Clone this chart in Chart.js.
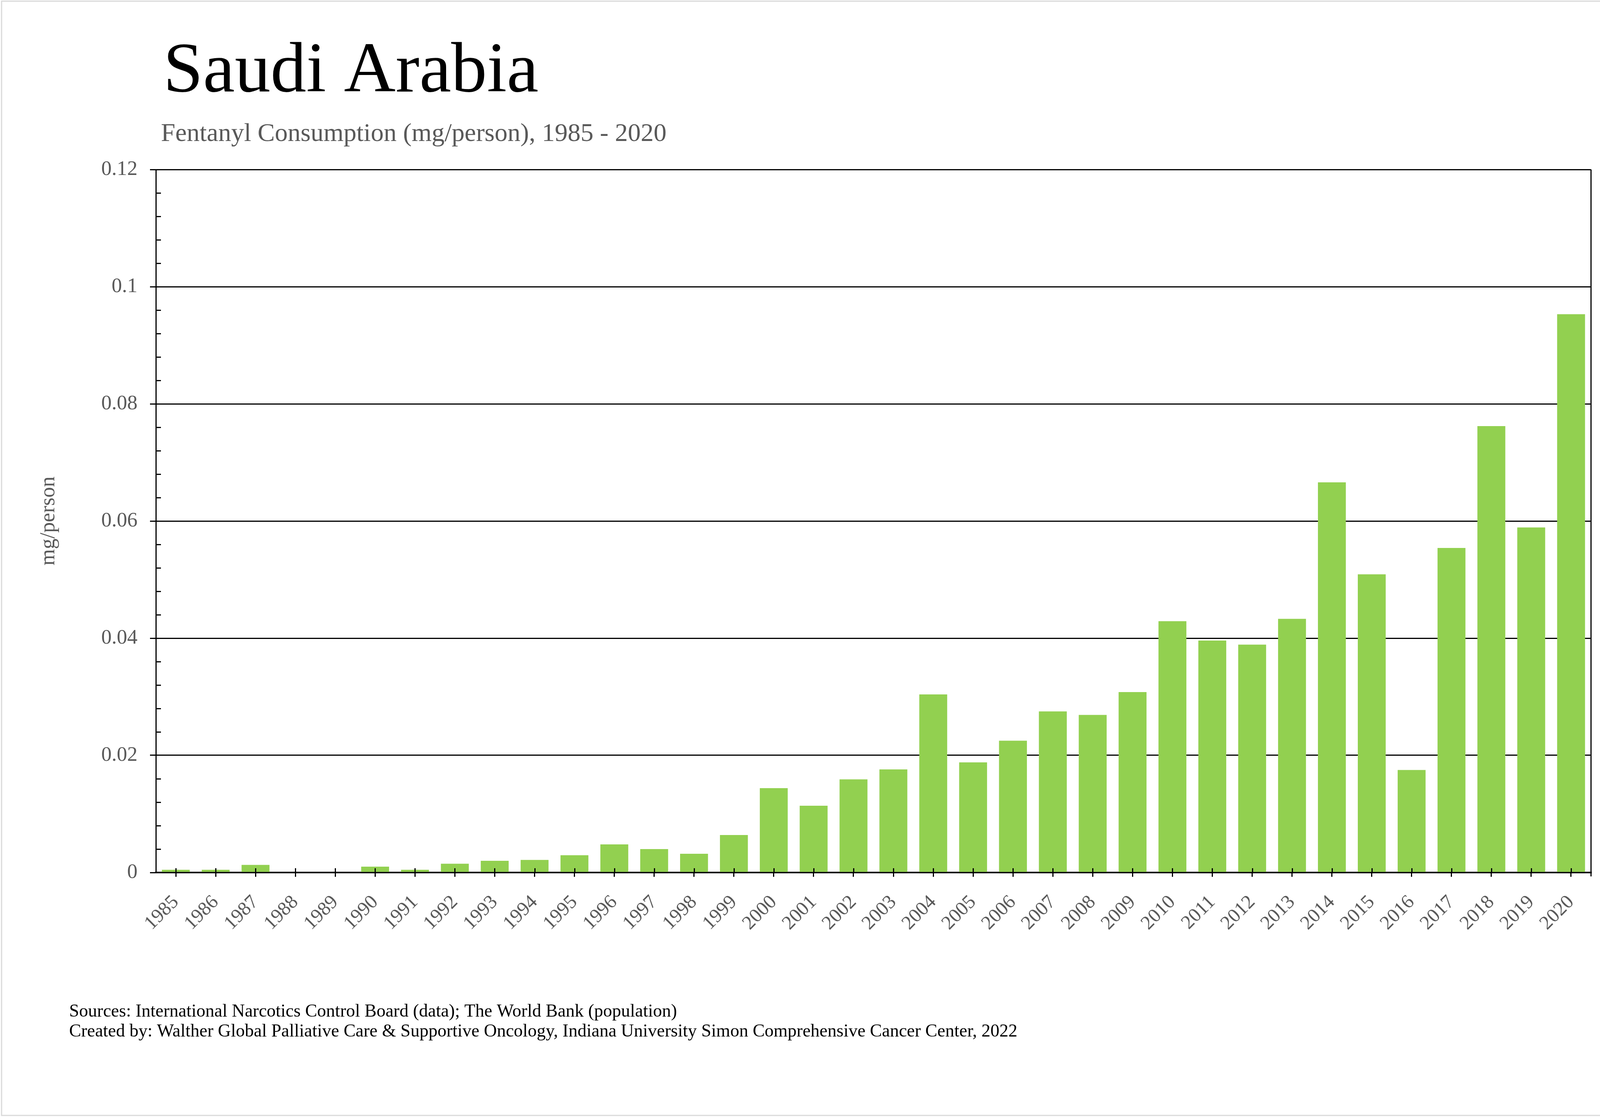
<!DOCTYPE html>
<html>
<head>
<meta charset="utf-8">
<title>Saudi Arabia - Fentanyl Consumption</title>
<script src="https://cdn.jsdelivr.net/npm/chart.js@4.4.0/dist/chart.umd.min.js"></script>
<style>
  html, body { margin: 0; padding: 0; background: #ffffff; }
  canvas { display: block; }
</style>
</head>
<body>
<canvas id="grafica" width="4221" height="2860"></canvas>
<script>
// datos
const years = ['1985','1986','1987','1988','1989','1990','1991','1992','1993','1994',
  '1995','1996','1997','1998','1999','2000','2001','2002','2003','2004',
  '2005','2006','2007','2008','2009','2010','2011','2012','2013','2014',
  '2015','2016','2017','2018','2019','2020'];
const mgPerPerson = [0.00047, 0.00047, 0.0013, 0, 0, 0.001, 0.00047, 0.0015, 0.002, 0.00215,
  0.00295, 0.0048, 0.004, 0.0032, 0.0064, 0.0144, 0.0114, 0.0159, 0.0176, 0.0304,
  0.0188, 0.0225, 0.0275, 0.0269, 0.0308, 0.0429, 0.0396, 0.0389, 0.0433, 0.0666,
  0.0509, 0.0175, 0.0554, 0.0762, 0.0589, 0.0953];
const yTicks = [0, 0.02, 0.04, 0.06, 0.08, 0.1, 0.12];

const titleText = 'Saudi Arabia';
const subtitleText = 'Fentanyl Consumption (mg/person), 1985 - 2020';
const footerLines = [
  'Sources: International Narcotics Control Board (data); The World Bank (population)',
  'Created by: Walther Global Palliative Care & Supportive Oncology, Indiana University Simon Comprehensive Cancer Center, 2022'
];

const SERIF = "'Liberation Serif', 'Times New Roman', serif";
const GREY = '#595959';

// textos, marco de pagina, marcas menores y borde derecho
const extras = {
  id: 'extras',
  beforeDraw(chart) {
    const ctx = chart.ctx;
    ctx.save();
    ctx.fillStyle = '#ffffff';
    ctx.fillRect(0, 0, chart.width, chart.height);
    ctx.strokeStyle = '#d9d9d9';
    ctx.lineWidth = 3;
    ctx.strokeRect(4, 3, 4209, 2853);
    ctx.restore();
  },
  afterDraw(chart) {
    const ctx = chart.ctx;
    const area = chart.chartArea;
    const x = chart.scales.x;
    const y = chart.scales.y;
    ctx.save();
    ctx.fillStyle = '#000000';
    ctx.textAlign = 'left';
    ctx.textBaseline = 'alphabetic';
    ctx.font = '183px ' + SERIF;
    ctx.fillText(titleText, 418, 234);
    ctx.fillStyle = GREY;
    ctx.font = '66px ' + SERIF;
    ctx.fillText(subtitleText, 412, 361);
    ctx.fillStyle = '#000000';
    ctx.font = '46px ' + SERIF;
    footerLines.forEach((line, i) => ctx.fillText(line, 177, 2603 + i * 51));

    ctx.strokeStyle = '#000000';
    ctx.lineWidth = 3;
    ctx.beginPath();
    // marcas menores del eje y, hacia dentro
    for (let k = 1; k < 30; k++) {
      if (k % 5 === 0) continue;
      const py = Math.round(y.getPixelForValue(k * 0.004)) + 0.5;
      ctx.moveTo(area.left, py);
      ctx.lineTo(area.left + 13, py);
    }
    // parte interior de las marcas del eje x
    years.forEach((_, i) => {
      const px = Math.round(x.getPixelForValue(i)) + 0.5;
      ctx.moveTo(px, area.bottom);
      ctx.lineTo(px, area.bottom - 11);
    });
    // borde derecho
    ctx.moveTo(area.right, area.top);
    ctx.lineTo(area.right, area.bottom + 10);
    ctx.stroke();
    ctx.restore();
  }
};

const ctx = document.getElementById('grafica').getContext('2d');
new Chart(ctx, {
  type: 'bar',
  data: {
    labels: years,
    datasets: [{
      label: 'mg/person',
      data: mgPerPerson,
      backgroundColor: '#92D050',
      borderWidth: 0,
      barPercentage: 0.7,
      categoryPercentage: 1.0
    }]
  },
  options: {
    responsive: false,
    animation: false,
    devicePixelRatio: 1,
    layout: {
      padding: { left: 98, right: 148, top: 434, bottom: 0 }
    },
    plugins: {
      legend: { display: false },
      tooltip: { enabled: false },
      title: { display: false }
    },
    scales: {
      x: {
        offset: true,
        afterFit: function(scale) { scale.height = 2860 - 2234; },
        grid: {
          display: true,
          offset: false,
          drawOnChartArea: false,
          drawTicks: true,
          tickLength: 11,
          color: '#000000',
          lineWidth: 3
        },
        border: { display: true, color: '#000000', width: 4 },
        ticks: {
          autoSkip: false,
          maxRotation: 45,
          minRotation: 45,
          padding: 36,
          color: GREY,
          font: { family: SERIF, size: 50 }
        }
      },
      y: {
        min: 0,
        max: 0.12,
        afterFit: function(scale) { scale.width = 399 - 98; },
        afterBuildTicks: function(scale) {
          scale.ticks = yTicks.map(v => ({ value: v }));
        },
        grid: {
          display: true,
          drawOnChartArea: true,
          drawTicks: true,
          tickLength: 15,
          color: '#000000',
          lineWidth: 3
        },
        border: { display: true, color: '#000000', width: 3 },
        ticks: {
          padding: 32,
          color: GREY,
          font: { family: SERIF, size: 53 },
          callback: function(value) {
            return Number(value.toFixed(2)).toString();
          }
        },
        title: {
          display: true,
          text: 'mg/person',
          color: GREY,
          padding: 0,
          font: { family: SERIF, size: 54, lineHeight: 1.0 }
        }
      }
    }
  },
  plugins: [extras]
});
</script>
</body>
</html>
